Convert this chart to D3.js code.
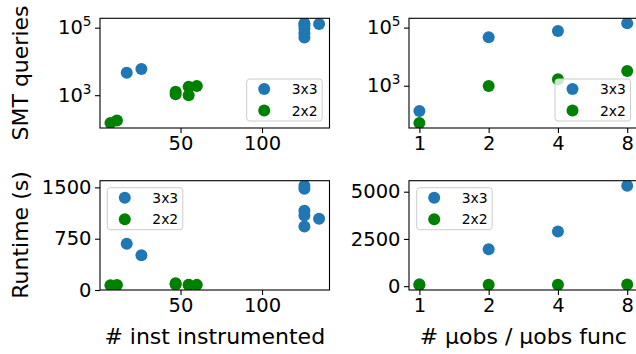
<!DOCTYPE html>
<html>
<head>
<meta charset="utf-8">
<script src="https://cdn.jsdelivr.net/npm/d3@7"></script>
<style>
  body { margin: 0; background: #fff; }
  svg { font-family: "DejaVu Sans", sans-serif; }
</style>
</head>
<body>
<script>

// x: number of instrumented instructions
var instX3 = [17, 26, 126, 126, 126, 126, 126, 135];
var instX2 = [7, 11, 47, 47, 55, 55, 60];
// SMT queries vs instructions
var smtInst3 = [4600, 6000, 135000, 118000, 95000, 68000, 51000, 129000];
var smtInst2 = [150, 178, 1260, 1070, 1775, 1000, 1860];
// runtime vs instructions
var rtInst3 = [677, 507, 1525, 1480, 1160, 1090, 928, 1040];
var rtInst2 = [70, 72, 100, 80, 75, 72, 75];

// x: number of uobs per uobs func
var obsX = [1, 2, 4, 8];
var smtObs3 = [134, 47000, 76000, 141000];
var smtObs2 = [52, 980, 1660, 3200];
var rtObs3 = [100, 1950, 2900, 5320];
var rtObs2 = [60, 75, 80, 85];

var instTicks = [50, 100];
var obsTicks = [1, 2, 4, 8];
var smtTicks = [1e3, 1e5];
var rtInstTicks = [0, 750, 1500];
var rtObsTicks = [0, 2500, 5000];

var width = 636, height = 354;
var blue = "#1f77b4", green = "#008000";

var svg = d3.select("body").append("svg")
    .attr("width", width)
    .attr("height", height);

var cols = [[100, 329.5], [409, 637.6]];
var rows = [[18.3, 128], [180.7, 290]];

function padLin(ext, lo0) {
  var r = ext[1] - ext[0];
  return [lo0 ? 0 : ext[0] - 0.05 * r, ext[1] + 0.05 * r];
}
function padLog(ext, base) {
  var a = Math.log(ext[0]) / Math.log(base), b = Math.log(ext[1]) / Math.log(base);
  var r = b - a;
  return [Math.pow(base, a - 0.05 * r), Math.pow(base, b + 0.05 * r)];
}

function panel(opts) {
  var c = cols[opts.col], r = rows[opts.row];
  var g = svg.append("g");

  var x = opts.xLog ? d3.scaleLog().base(2) : d3.scaleLinear();
  x.domain(opts.xLog ? padLog(d3.extent(opts.x3.concat(opts.x2)), 2)
                     : padLin(d3.extent(opts.x3.concat(opts.x2))))
   .range(c);

  var yAll = opts.y3.concat(opts.y2);
  var y = opts.yLog ? d3.scaleLog() : d3.scaleLinear();
  y.domain(opts.yLog ? padLog(d3.extent(yAll), 10) : padLin(d3.extent(yAll), opts.yZero))
   .range([r[1], r[0]]);

  var clipId = "clip" + opts.col + opts.row;
  g.append("clipPath").attr("id", clipId)
    .append("rect").attr("x", c[0]).attr("y", r[0])
    .attr("width", c[1] - c[0]).attr("height", r[1] - r[0]);

  var pts = g.append("g").attr("clip-path", "url(#" + clipId + ")");
  [[opts.x3, opts.y3, blue], [opts.x2, opts.y2, green]].forEach(function(s) {
    pts.selectAll(null)
      .data(s[0].map(function(v, i) { return [v, s[1][i]]; }))
      .enter().append("circle")
      .attr("cx", function(d) { return x(d[0]); })
      .attr("cy", function(d) { return y(d[1]); })
      .attr("r", 6)
      .attr("fill", s[2]);
  });

  var xa = g.append("g")
    .attr("transform", "translate(0," + r[1] + ")")
    .call(d3.axisBottom(x).tickValues(opts.xTicks).tickFormat(d3.format("d"))
          .tickSize(5).tickPadding(3.5));
  var ya = g.append("g")
    .attr("transform", "translate(" + c[0] + ",0)")
    .call(d3.axisLeft(y).tickValues(opts.yTicks).tickFormat(d3.format("d"))
          .tickSize(5).tickPadding(3.5));

  [xa, ya].forEach(function(a) {
    a.select(".domain").remove();
    a.selectAll("line").attr("stroke", "#000").attr("stroke-width", 1.1);
    a.selectAll("text").attr("fill", "#000").attr("font-size", 19.5)
      .attr("font-family", "DejaVu Sans");
  });

  if (opts.yLog) {
    ya.selectAll("text").each(function(d) {
      var t = d3.select(this).text("");
      t.append("tspan").text("10");
      t.append("tspan").attr("font-size", 13.6).attr("dy", -8)
        .text(Math.round(Math.log10(d)));
    });
  }

  g.append("rect")
    .attr("x", c[0]).attr("y", r[0])
    .attr("width", c[1] - c[0]).attr("height", r[1] - r[0])
    .attr("fill", "none").attr("stroke", "#000").attr("stroke-width", 1.1);

  // legend
  var lg = g.append("g").attr("transform", "translate(" + opts.leg[0] + "," + opts.leg[1] + ")");
  lg.append("rect").attr("width", 75.5).attr("height", 42)
    .attr("rx", 3).attr("fill", "#fff").attr("fill-opacity", 0.8)
    .attr("stroke", "#cccccc").attr("stroke-width", 1);
  [["3x3", blue], ["2x2", green]].forEach(function(e, i) {
    var yy = 10 + i * 21.5;
    lg.append("circle").attr("cx", 17.5).attr("cy", yy).attr("r", 6).attr("fill", e[1]);
    lg.append("text").attr("x", 45).attr("y", yy + 5)
      .attr("font-size", 13.9).attr("fill", "#000").text(e[0]);
  });
}

panel({col: 0, row: 0, x3: instX3, x2: instX2, y3: smtInst3, y2: smtInst2,
       yLog: true, xTicks: instTicks, yTicks: smtTicks, leg: [246.7, 79]});
panel({col: 1, row: 0, x3: obsX, x2: obsX, y3: smtObs3, y2: smtObs2,
       xLog: true, yLog: true, xTicks: obsTicks, yTicks: smtTicks, leg: [555, 79]});
panel({col: 0, row: 1, x3: instX3, x2: instX2, y3: rtInst3, y2: rtInst2,
       yZero: true, xTicks: instTicks, yTicks: rtInstTicks, leg: [107.3, 187.7]});
panel({col: 1, row: 1, x3: obsX, x2: obsX, y3: rtObs3, y2: rtObs2,
       xLog: true, xTicks: obsTicks, yTicks: rtObsTicks, leg: [416.7, 187.7]});

// axis labels
function label(txt, x, y, rot) {
  svg.append("text")
    .attr("transform", "translate(" + x + "," + y + ")" + (rot ? " rotate(-90)" : ""))
    .attr("text-anchor", "middle")
    .attr("font-size", 22)
    .attr("fill", "#000")
    .text(txt);
}
label("SMT queries", 28, 73, true);
label("Runtime (s)", 28, 235, true);
label("# inst instrumented", (cols[0][0] + cols[0][1]) / 2, 344);
label("# \u00b5obs / \u00b5obs func", (cols[1][0] + cols[1][1]) / 2, 344);

</script>
</body>
</html>
